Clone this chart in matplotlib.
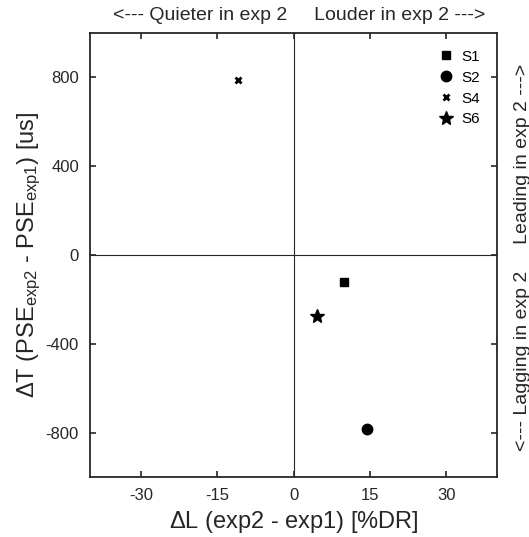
import matplotlib
matplotlib.use("Agg")
import matplotlib.pyplot as plt

plt.rcParams['font.family'] = ['Liberation Sans', 'DejaVu Sans']
plt.rcParams['mathtext.fontset'] = 'custom'
plt.rcParams['mathtext.rm'] = 'Liberation Sans'
plt.rcParams['mathtext.it'] = 'Liberation Sans'
plt.rcParams['axes.unicode_minus'] = False

# subjects and their shifts between experiments
subjects = ['S1', 'S2', 'S4', 'S6']
delta_L = [10, 14.5, -11, 4.7]        # %DR
delta_T = [-120, -785, 790, -275]     # us
markers = ['s', 'o', 'x', '*']
sizes = [5.5, 7.5, 4.5, 10]

xticks = [-30, -15, 0, 15, 30]
yticks = [-800, -400, 0, 400, 800]

dark = '#262626'

fig = plt.figure(figsize=(5.29, 5.37), dpi=100)
ax = fig.add_axes([90 / 529, 60 / 537, 407 / 529, 444 / 537])

ax.axhline(0, color=dark, lw=0.8, zorder=1)
ax.axvline(0, color=dark, lw=0.8, zorder=1)

for s, x, y, m, ms in zip(subjects, delta_L, delta_T, markers, sizes):
    ax.plot(x, y, ls='none', marker=m, ms=ms, color='k', mew=2 if m == 'x' else 1,
            label=s, zorder=3)

ax.set_xlim(-40, 40)
ax.set_ylim(-1000, 1000)
ax.set_xticks(xticks)
ax.set_yticks(yticks)
ax.tick_params(direction='in', top=True, right=True, length=4, width=1.2,
               colors=dark, labelsize=12, labelcolor=dark, pad=8)
for sp in ax.spines.values():
    sp.set_linewidth(1.3)
    sp.set_color(dark)

ax.set_xlabel(r'$\Delta$L (exp2 - exp1) [%DR]', fontsize=17, color=dark, labelpad=4)
ax.set_ylabel(r'$\Delta$T (PSE$_{\rm exp2}$ - PSE$_{\rm exp1}$) [us]', fontsize=17,
              color=dark, labelpad=2)

leg = ax.legend(loc='upper right', frameon=False, fontsize=11, handletextpad=0.55,
                labelspacing=0.45, borderaxespad=0.7, handlelength=1.0)

fig.text(299 / 529, 1 - 15 / 537, '<--- Quieter in exp 2     Louder in exp 2 --->',
         ha='center', va='center', fontsize=14, color=dark)
fig.text(514 / 529, 1 - 257 / 537, '<--- Lagging in exp 2     Leading in exp 2 --->',
         ha='left', va='center', rotation=90, fontsize=14, color=dark)

fig.savefig('out.png', dpi=100)
